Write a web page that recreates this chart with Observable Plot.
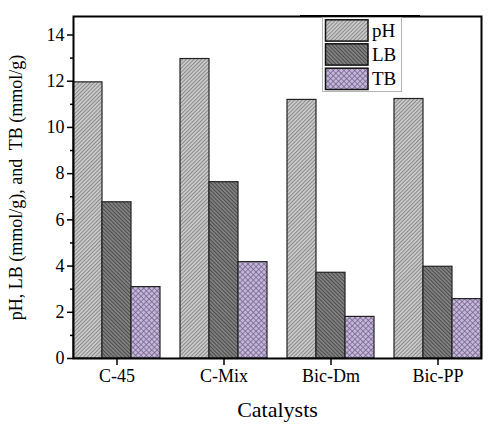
<!DOCTYPE html>
<html><head><meta charset="utf-8">
<script src="https://cdn.jsdelivr.net/npm/d3@7"></script>
<script src="https://cdn.jsdelivr.net/npm/@observablehq/plot@0.6"></script>
<style>
body{margin:0;overflow:hidden;background:#fff}
#wrap{position:relative;width:489px;height:425px;font-family:"Liberation Serif",serif}
#wrap svg, #wrap svg g, #wrap svg text, #wrap svg tspan{font-family:"Liberation Serif",serif !important}
#legend{position:absolute;left:0;top:0;pointer-events:none}
</style></head>
<body>
<svg width="0" height="0" style="position:absolute">
  <defs>
    <pattern id="pat-pH" patternUnits="userSpaceOnUse" width="2.7" height="2.7" patternTransform="rotate(45)">
      <rect width="2.7" height="2.7" fill="#c8c8c8"/>
      <line x1="0.5" y1="0" x2="0.5" y2="2.7" stroke="#868686" stroke-width="0.9"/>
    </pattern>
    <pattern id="pat-LB" patternUnits="userSpaceOnUse" width="2.7" height="2.7" patternTransform="rotate(-45)">
      <rect width="2.7" height="2.7" fill="#808080"/>
      <line x1="0.5" y1="0" x2="0.5" y2="2.7" stroke="#474747" stroke-width="0.9"/>
    </pattern>
    <pattern id="pat-TB" patternUnits="userSpaceOnUse" width="3.8" height="3.8" patternTransform="rotate(45)">
      <rect width="3.8" height="3.8" fill="#c6b6de"/>
      <line x1="0.4" y1="0" x2="0.4" y2="3.8" stroke="#6e6280" stroke-width="0.8"/>
      <line x1="0" y1="0.4" x2="3.8" y2="0.4" stroke="#6e6280" stroke-width="0.8"/>
    </pattern>
  </defs>
</svg>
<div id="wrap"></div>
<script>
const categories = ["C-45", "C-Mix", "Bic-Dm", "Bic-PP"];
const series = ["pH", "LB", "TB"];
const pH = [11.95, 12.96, 11.19, 11.23];
const LB = [6.76, 7.63, 3.71, 3.97];
const TB = [3.09, 4.17, 1.80, 2.57];
const yTicks = [0, 2, 4, 6, 8, 10, 12, 14];
const yMinorTicks = [1, 3, 5, 7, 9, 11, 13];
const patterns = ["url(#pat-pH)", "url(#pat-LB)", "url(#pat-TB)"];

const values = {pH, LB, TB};
const data = categories.flatMap((c, i) => series.map(s => ({cat: c, series: s, value: values[s][i]})));
const serif = "Liberation Serif";

const chart = Plot.plot({
  width: 489, height: 425,
  marginLeft: 61, marginRight: -3, marginTop: 16, marginBottom: 67,
  style: {fontFamily: serif, fontSize: "18px", color: "black", background: "white"},
  fx: {domain: categories, paddingInner: 0.187, paddingOuter: 0.107, label: "Catalysts"},
  x: {domain: series, padding: 0, axis: null},
  y: {domain: [0, 14.8], label: "pH, LB (mmol/g), and  TB (mmol/g)"},
  color: {domain: series, range: patterns},
  marks: [
    Plot.barY(data, {fx: "cat", x: "series", y: "value", fill: "series", stroke: "#222", strokeWidth: 1.2}),
    Plot.axisY({ticks: yMinorTicks, tickSize: 3, strokeWidth: 1.5, fill: "none"}),
    Plot.axisY({ticks: yTicks, tickSize: 6, tickPadding: 3, strokeWidth: 1.5, fontSize: 18, fontFamily: serif,
      fontVariant: "normal",
      label: "pH, LB (mmol/g), and  TB (mmol/g)", labelAnchor: "center", labelOffset: 64, labelArrow: false}),
    Plot.axisFx({anchor: "bottom", tickSize: 7, tickPadding: 4, strokeWidth: 1.5, fontSize: 18, fontFamily: serif,
      fontVariant: "normal",
      label: "Catalysts", labelAnchor: "center", labelOffset: 58, labelArrow: false}),
    Plot.frame({facet: "super", stroke: "black", strokeWidth: 2})
  ]
});
const wrap = document.getElementById("wrap");
wrap.appendChild(chart);
d3.select(chart).selectAll("g, text").attr("font-family", serif).style("font-family", serif).style("font-variant", "normal");
d3.select(chart).selectAll("text").filter(function() { return this.textContent === "Catalysts"; })
  .style("font-size", "22px");

// legend overlay
const lg = d3.select(wrap).append("svg").attr("id", "legend").attr("width", 489).attr("height", 425);
lg.append("rect").attr("x", 322.5).attr("y", 17.5).attr("width", 79).attr("height", 74)
  .attr("fill", "white").attr("stroke", "#b4b4b4").attr("stroke-width", 1);
const rowsY = [19.8, 43.8, 68.2];
series.forEach((s, i) => {
  lg.append("rect").attr("x", 325.5).attr("y", rowsY[i]).attr("width", 42.5).attr("height", 21.3)
    .attr("fill", patterns[i]).attr("stroke", "#111").attr("stroke-width", 1.5);
  lg.append("text").attr("x", 372).attr("y", rowsY[i] + 17).text(s)
    .attr("font-family", serif).attr("font-size", 19).attr("fill", "black");
});
// keep the frame's top edge over the legend, as in the original
lg.append("line").attr("x1", 300).attr("x2", 420).attr("y1", 16).attr("y2", 16)
  .attr("stroke", "black").attr("stroke-width", 2);
</script>
</body></html>
